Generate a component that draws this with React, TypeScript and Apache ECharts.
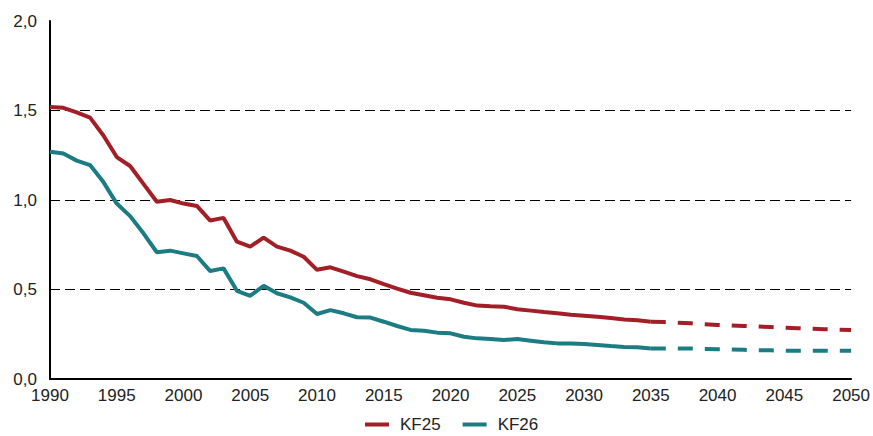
import React, { useEffect, useRef } from "react";
import * as echarts from "echarts";

const yearsHist = [
  1990, 1991, 1992, 1993, 1994, 1995, 1996, 1997, 1998, 1999, 2000, 2001, 2002, 2003, 2004, 2005,
  2006, 2007, 2008, 2009, 2010, 2011, 2012, 2013, 2014, 2015, 2016, 2017, 2018, 2019, 2020, 2021,
  2022, 2023, 2024, 2025, 2026, 2027, 2028, 2029, 2030, 2031, 2032, 2033, 2034, 2035,
];
const yearsProj = [
  2035, 2036, 2037, 2038, 2039, 2040, 2041, 2042, 2043, 2044, 2045, 2046, 2047, 2048, 2049, 2050,
];

const kf25Hist = [
  1.52, 1.515, 1.49, 1.46, 1.36, 1.24, 1.19, 1.09, 0.99, 1.0, 0.98, 0.967, 0.885, 0.9, 0.767, 0.74,
  0.79, 0.74, 0.717, 0.683, 0.61, 0.624, 0.6, 0.575, 0.557, 0.53, 0.505, 0.482, 0.468, 0.454, 0.445,
  0.426, 0.41, 0.406, 0.404, 0.39, 0.382, 0.374, 0.367, 0.359, 0.354, 0.348, 0.341, 0.333, 0.328, 0.32,
];
const kf25Proj = [
  0.32, 0.318, 0.315, 0.311, 0.306, 0.302, 0.299, 0.296, 0.293, 0.29, 0.287, 0.284, 0.281, 0.278, 0.276,
  0.274,
];

const kf26Hist = [
  1.27, 1.26, 1.22, 1.195, 1.1, 0.98, 0.91, 0.814, 0.708, 0.717, 0.702, 0.687, 0.603, 0.618, 0.493,
  0.465, 0.521, 0.479, 0.456, 0.426, 0.363, 0.385, 0.367, 0.345, 0.343, 0.32, 0.296, 0.274, 0.27,
  0.259, 0.255, 0.236, 0.227, 0.223, 0.218, 0.223, 0.214, 0.205, 0.199, 0.199, 0.196, 0.19, 0.184,
  0.179, 0.177, 0.171,
];
const kf26Proj = [
  0.171, 0.171, 0.171, 0.17, 0.168, 0.166, 0.165, 0.163, 0.161, 0.16, 0.158, 0.158, 0.158, 0.158, 0.158,
  0.158,
];

const seriesNames = ["KF25", "KF26"];
const RED = "#A31F27";
const TEAL = "#1B7C83";

const pairs = (xs: number[], ys: number[]) => xs.map((x, i) => [x, ys[i]]);

export default function App() {
  const ref = useRef<HTMLDivElement>(null);
  useEffect(() => {
    if (!ref.current) return;
    const chart = echarts.init(ref.current, null, { renderer: "svg" });
    const font = "Liberation Sans, Arial, sans-serif";
    chart.setOption({
      animation: false,
      backgroundColor: "#ffffff",
      grid: { left: 50, right: 20, top: 21, bottom: 57, containLabel: false },
      legend: {
        data: seriesNames,
        top: 411,
        left: 360,
        padding: 5,
        icon: "rect",
        itemWidth: 24,
        itemHeight: 4,
        itemGap: 22,
        textStyle: { fontFamily: font, fontSize: 17, color: "#222", padding: [0, 0, 0, 6] },
      },
      xAxis: {
        type: "value",
        min: 1990,
        max: 2050,
        interval: 5,
        axisLine: { show: true, onZero: false, lineStyle: { color: "#000", width: 2 } },
        axisTick: { show: false },
        splitLine: { show: false },
        axisLabel: {
          fontFamily: font,
          fontSize: 17,
          color: "#222",
          margin: 8,
          formatter: (v: number) => String(v),
        },
      },
      yAxis: {
        type: "value",
        min: 0,
        max: 2,
        interval: 0.5,
        axisLine: { show: true, lineStyle: { color: "#000", width: 2 } },
        axisTick: { show: false },
        splitLine: {
          show: true,
          showMaxLine: false,
          lineStyle: { color: "#000", width: 1, type: [10, 5] },
        },
        axisLabel: {
          fontFamily: font,
          fontSize: 17,
          color: "#222",
          margin: 13,
          formatter: (v: number) => v.toFixed(1).replace(".", ","),
        },
      },
      series: [
        {
          name: "KF25",
          type: "line",
          data: pairs(yearsHist, kf25Hist),
          showSymbol: false,
          lineStyle: { color: RED, width: 4 },
          itemStyle: { color: RED },
          z: 3,
        },
        {
          name: "KF26",
          type: "line",
          data: pairs(yearsHist, kf26Hist),
          showSymbol: false,
          lineStyle: { color: TEAL, width: 4 },
          itemStyle: { color: TEAL },
          z: 3,
        },
        {
          name: "KF25 proj",
          type: "line",
          data: pairs(yearsProj, kf25Proj),
          showSymbol: false,
          lineStyle: { color: RED, width: 4, type: [15, 12] },
          itemStyle: { color: RED },
          z: 3,
        },
        {
          name: "KF26 proj",
          type: "line",
          data: pairs(yearsProj, kf26Proj),
          showSymbol: false,
          lineStyle: { color: TEAL, width: 4, type: [15, 12] },
          itemStyle: { color: TEAL },
          z: 3,
        },
      ],
    });
    return () => chart.dispose();
  }, []);
  return (
    <div
      ref={ref}
      style={{ position: "fixed", left: 0, top: 0, width: 873, height: 436, background: "#fff" }}
    />
  );
}
